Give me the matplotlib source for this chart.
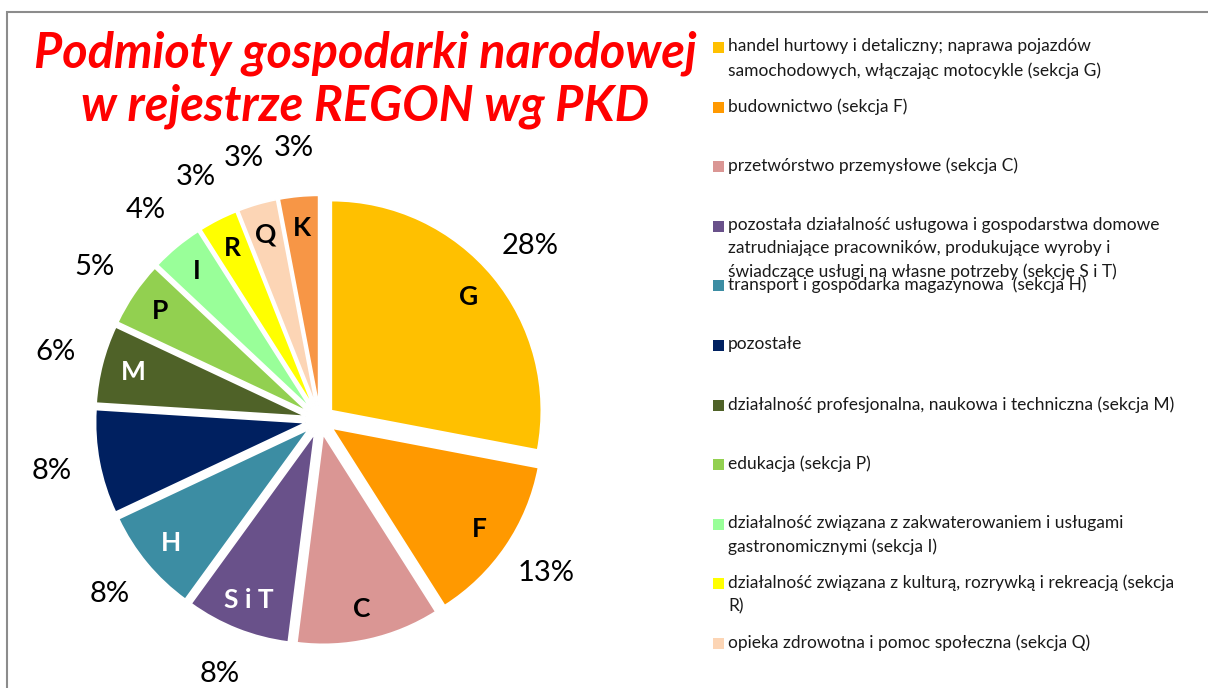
import numpy as np
import matplotlib
matplotlib.use("Agg")
import matplotlib.pyplot as plt
from matplotlib.patches import Rectangle

# sections of the PKD classification, clockwise from 12 o'clock
codes = ["G", "F", "C", "S i T", "H", "", "M", "P", "I", "R", "Q", "K"]
shares = [28, 13, 11, 8, 8, 8, 6, 5, 4, 3, 3, 3]
pct_labels = ["28%", "13%", "", "8%", "8%", "8%", "6%", "5%", "4%", "3%", "3%", "3%"]
colors = ["#FFC000", "#FF9900", "#DA9694", "#69518A", "#3C8DA3", "#002060",
          "#4F6228", "#92D050", "#99FF99", "#FFFF00", "#FCD5B5", "#F79646"]
code_colors = ["black", "black", "black", "white", "white", "white",
               "white", "black", "black", "black", "black", "black"]

legend_labels = [
    "handel hurtowy i detaliczny; naprawa pojazdów\nsamochodowych, włączając motocykle (sekcja G)",
    "budownictwo (sekcja F)",
    "przetwórstwo przemysłowe (sekcja C)",
    "pozostała działalność usługowa i gospodarstwa domowe\nzatrudniające pracowników, produkujące wyroby i\nświadczące usługi na własne potrzeby (sekcje S i T)",
    "transport i gospodarka magazynowa  (sekcja H)",
    "pozostałe",
    "działalność profesjonalna, naukowa i techniczna (sekcja M)",
    "edukacja (sekcja P)",
    "działalność związana z zakwaterowaniem i usługami\ngastronomicznymi (sekcja I)",
    "działalność związana z kulturą, rozrywką i rekreacją (sekcja\nR)",
    "opieka zdrowotna i pomoc społeczna (sekcja Q)",
]

title = "Podmioty gospodarki narodowej\nw rejestrze REGON wg PKD"

W, H = 1208, 688
fig = plt.figure(figsize=(W / 100, H / 100), dpi=100)
fig.patch.set_facecolor("white")

# grey frame of the chart area (runs off the right and bottom edge)
fig.patches.append(Rectangle((7 / W, -0.1), 1.2, 1 - 12 / H + 0.1,
                             transform=fig.transFigure, fill=False,
                             edgecolor="#8c8c8c", linewidth=1.5))

# pie axes: centre at (320, 420) px, radius 210 px
L = 1.4
side = 2 * L * 210
ax = fig.add_axes([(320 - side / 2) / W, 1 - (420 + side / 2) / H, side / W, side / H])
wedges, _ = ax.pie(shares, colors=colors, startangle=90, counterclock=False,
                   explode=[0.07] * len(shares),
                   wedgeprops=dict(edgecolor="white", linewidth=1.2))
ax.set_xlim(-L, L)
ax.set_ylim(-L, L)
ax.set_aspect("equal")
ax.axis("off")

for w, code, cc, pct in zip(wedges, codes, code_colors, pct_labels):
    mid = np.deg2rad((w.theta1 + w.theta2) / 2)
    cx, cy = np.cos(mid), np.sin(mid)
    ax.text(0.92 * cx, 0.92 * cy, code, ha="center", va="center", color=cc,
            fontsize=19, fontweight="bold", family="Lato")
    ax.text(1.3 * cx, 1.3 * cy, pct, ha="center", va="center", color="black",
            fontsize=21, family="Lato")

fig.text(365 / W, 1 - 80 / H, title, ha="center", va="center", color="#FF0000",
         fontsize=35, fontweight="bold", fontstyle="italic", family="Lato",
         linespacing=1.2)

# legend drawn by hand, Excel style
y0, dy = 47.5, 59.6
for i, (lab, col) in enumerate(zip(legend_labels, colors)):
    y = y0 + i * dy
    fig.patches.append(Rectangle((713 / W, 1 - (y + 5.5) / H), 11 / W, 11 / H,
                                 transform=fig.transFigure, facecolor=col,
                                 edgecolor="none"))
    fig.text(728 / W, 1 - (y - 9) / H, lab, ha="left", va="top", fontsize=12.5,
             family="Lato", color="#1a1a1a", linespacing=1.55)

fig.savefig("out.png", dpi=100, facecolor="white")
